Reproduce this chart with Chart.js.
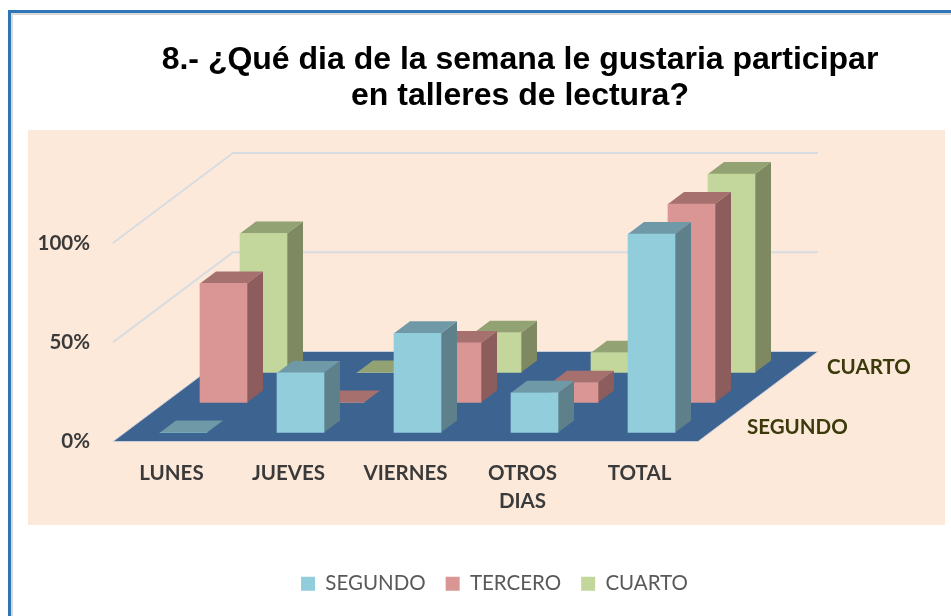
<!DOCTYPE html>
<html>
<head>
<meta charset="utf-8">
<style>html,body{margin:0;padding:0;background:#fff}canvas{display:block}</style>
<script src="https://cdn.jsdelivr.net/npm/chart.js@4"></script>
</head>
<body>
<canvas id="c" width="951" height="616"></canvas>
<script>
const categories = ['LUNES', 'JUEVES', 'VIERNES', ['OTROS', 'DIAS'], 'TOTAL'];
const seriesNames = ['SEGUNDO', 'TERCERO', 'CUARTO'];
const segundo = [0, 30, 50, 20, 100];
const tercero = [60, 0, 30, 10, 100];
const cuarto = [70, 0, 20, 10, 100];
const depthLabels = ['SEGUNDO', '', 'CUARTO'];
const yTicks = [0, 50, 100];
const frontColors = ['#92CDDC', '#D99694', '#C3D69B'];
const sideColors = ['#5D808B', '#8C5D5C', '#7E8961'];
const topColors = ['#7099A8', '#A6706E', '#93A272'];

const WALL_DX = 120, WALL_DY = 90;
const BAR_DX = 16, BAR_DY = 12;
const SLOT_DX = WALL_DX / 3, SLOT_DY = WALL_DY / 3;
const LABEL_FONT = 'bold 20.5px Lato';

function poly(ctx, pts, fill) {
  ctx.beginPath();
  pts.forEach((p, i) => i ? ctx.lineTo(p[0], p[1]) : ctx.moveTo(p[0], p[1]));
  ctx.closePath();
  ctx.fillStyle = fill;
  ctx.fill();
}

const scene3d = {
  id: 'scene3d',
  afterLayout(chart) {
    const t = chart.titleBlock, l = chart.legend;
    t.left = 90; t.right = 950;
    l.left += 139; l.right += 139;
  },
  beforeDraw(chart) {
    const ctx = chart.ctx;
    ctx.save();
    ctx.fillStyle = '#ffffff';
    ctx.fillRect(0, 0, 951, 616);
    ctx.fillStyle = '#D9D9D9';
    ctx.fillRect(11, 13, 940, 2);
    ctx.fillRect(11, 13, 2, 603);
    ctx.fillStyle = '#2E75B6';
    ctx.fillRect(8, 10, 943, 3);
    ctx.fillRect(8, 10, 3, 606);
    ctx.fillStyle = '#FDE9DA';
    ctx.fillRect(28, 130, 917, 395);
    ctx.restore();
  },
  beforeDatasetsDraw(chart) {
    const ctx = chart.ctx, x = chart.scales.x, y = chart.scales.y;
    ctx.save();
    const y0 = y.getPixelForValue(0);
    ctx.strokeStyle = '#D6DCE1';
    ctx.lineWidth = 2;
    yTicks.filter(v => v > 0).forEach(v => {
      const py = y.getPixelForValue(v);
      ctx.beginPath();
      ctx.moveTo(x.left, py);
      ctx.lineTo(x.left + WALL_DX, py - WALL_DY);
      ctx.lineTo(x.right + WALL_DX, py - WALL_DY);
      ctx.stroke();
    });
    const floor = [[x.left, y0], [x.right, y0], [x.right + WALL_DX, y0 - WALL_DY], [x.left + WALL_DX, y0 - WALL_DY]];
    poly(ctx, floor, '#3D6391');
    ctx.strokeStyle = '#C5CEDA';
    ctx.lineWidth = 1;
    ctx.stroke();
    ctx.font = LABEL_FONT;
    ctx.fillStyle = '#3B3A0A';
    ctx.textAlign = 'left';
    ctx.textBaseline = 'middle';
    depthLabels.forEach((s, i) => {
      if (!s) return;
      const f = (i + 0.5) * SLOT_DX, g = (i + 0.5) * SLOT_DY;
      ctx.fillText(s, x.right + f + 29, y0 - g + 1);
    });
    ctx.restore();
  },
  afterDatasetsUpdate(chart) {
    chart.data.datasets.forEach((ds, i) => {
      const sx = (SLOT_DX - BAR_DX) / 2 + i * SLOT_DX;
      const sy = (SLOT_DY - BAR_DY) / 2 + i * SLOT_DY;
      chart.getDatasetMeta(i).data.forEach(el => {
        el.x += sx; el.y -= sy; el.base -= sy;
      });
    });
  },
  beforeDatasetDraw(chart, args) {
    const ctx = chart.ctx, i = args.index;
    chart.getDatasetMeta(i).data.forEach(el => {
      const l = el.x - el.width / 2, r = el.x + el.width / 2;
      poly(ctx, [[r, el.y], [r + BAR_DX, el.y - BAR_DY], [r + BAR_DX, el.base - BAR_DY], [r, el.base]], sideColors[i]);
      poly(ctx, [[l, el.y], [r, el.y], [r + BAR_DX, el.y - BAR_DY], [l + BAR_DX, el.y - BAR_DY]], topColors[i]);
    });
  }
};

new Chart(document.getElementById('c'), {
  type: 'bar',
  plugins: [scene3d],
  data: {
    labels: categories,
    datasets: [segundo, tercero, cuarto].map((d, i) => ({
      label: seriesNames[i],
      data: d,
      backgroundColor: frontColors[i],
      borderWidth: 0,
      barThickness: 47,
      grouped: false,
      clip: false
    }))
  },
  options: {
    responsive: false,
    animation: false,
    layout: { padding: { left: 13, right: 253, top: 0, bottom: 12 } },
    plugins: {
      tooltip: { enabled: false },
      title: {
        display: true,
        text: ['8.- ¿Qué dia de la semana le gustaria participar', 'en talleres de lectura?'],
        color: '#000000',
        font: { family: 'Liberation Sans', weight: 'bold', size: 32, lineHeight: 1.125 },
        padding: { top: 42, bottom: 129 }
      },
      legend: {
        position: 'bottom',
        labels: {
          boxWidth: 14, boxHeight: 14, padding: 20,
          color: '#595959',
          font: { family: 'Lato', size: 20.5 }
        }
      }
    },
    scales: {
      x: {
        grid: { display: false, drawTicks: false },
        border: { display: false },
        afterFit(s) { s.height = 112; },
        ticks: {
          autoSkip: false, maxRotation: 0, padding: 18,
          color: '#3A3A3A',
          font: { family: 'Lato', weight: 'bold', size: 20.5, lineHeight: 1.37 }
        }
      },
      y: {
        min: 0, max: 100,
        grid: { display: false, drawTicks: false },
        border: { display: false },
        afterFit(s) { s.width = 100; },
        ticks: {
          stepSize: 50, padding: 23,
          color: '#3A3A3A',
          font: { family: 'Lato', weight: 'bold', size: 20.5 },
          callback: v => v + '%'
        }
      }
    }
  }
});
</script>
</body>
</html>
